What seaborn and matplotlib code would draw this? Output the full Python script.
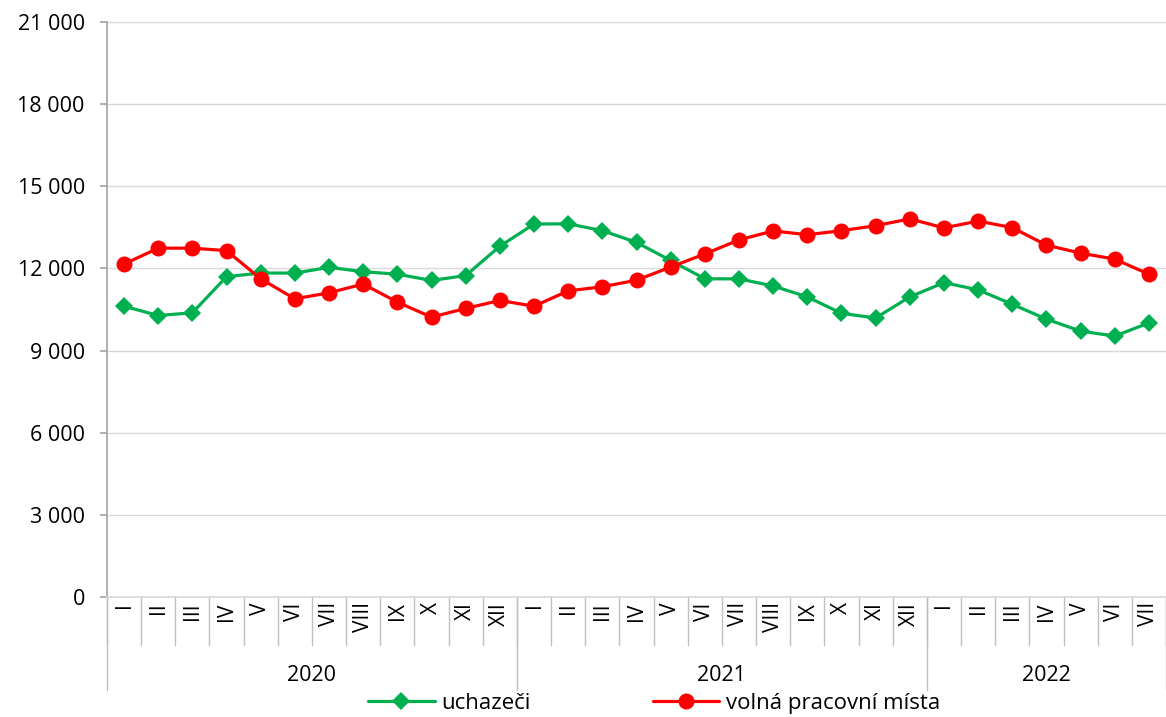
import numpy as np
import pandas as pd
import matplotlib
matplotlib.use("Agg")
import matplotlib.pyplot as plt
import seaborn as sns
from matplotlib.ticker import FuncFormatter

# months (roman numerals) and years
months = ["I", "II", "III", "IV", "V", "VI", "VII", "VIII", "IX", "X", "XI", "XII"]
years = ["2020", "2021", "2022"]
months_per_year = [12, 12, 7]

# uchazeci (job seekers)
uchazeci = [10620, 10280, 10380, 11700, 11830, 11830, 12040, 11880, 11790, 11560, 11740, 12810,
            13620, 13630, 13380, 12950, 12290, 11620, 11620, 11360, 10960, 10360, 10190, 10960,
            11480, 11220, 10690, 10150, 9710, 9530, 10010]
# volna pracovni mista (vacancies)
volna = [12160, 12740, 12740, 12650, 11620, 10890, 11110, 11430, 10770, 10220, 10540, 10830,
         10620, 11180, 11330, 11570, 12050, 12530, 13040, 13370, 13230, 13380, 13560, 13810,
         13480, 13730, 13490, 12850, 12560, 12340, 11790]

labels = []
for n in months_per_year:
    labels += months[:n]
x = np.arange(len(labels))

df = pd.DataFrame({"x": x, "uchazeči": uchazeci, "volná pracovní místa": volna})

sns.set_theme(style="white")
plt.rcParams["font.family"] = ["Open Sans", "DejaVu Sans"]
plt.rcParams["text.color"] = "black"

fig = plt.figure(figsize=(11.66, 7.17), dpi=100)
ax = fig.add_axes([107 / 1166, 1 - 597 / 717, 1 - 107 / 1166, 575 / 717])

sns.lineplot(data=df, x="x", y="uchazeči", ax=ax, color="#00B050", marker="D",
             markersize=9, markeredgewidth=0, linewidth=2.3, label="uchazeči")
sns.lineplot(data=df, x="x", y="volná pracovní místa", ax=ax, color="#FF0000", marker="o",
             markersize=11.5, markeredgewidth=0, linewidth=2.3, label="volná pracovní místa")

ax.set_xlim(-0.5, len(labels) - 0.5)
ax.set_ylim(0, 21000)
ax.set_yticks(np.arange(0, 21001, 3000))
ax.yaxis.set_major_formatter(FuncFormatter(lambda v, p: f"{int(v):,}".replace(",", " ")))
ax.tick_params(axis="y", labelsize=15.5, labelcolor="black", length=5, color="#A6A6A6",
               left=True, pad=11)
ax.set_xticks([])
ax.set_xlabel("")
ax.set_ylabel("")
ax.grid(axis="y", color="#D9D9D9", linewidth=1)
for s in ["top", "right"]:
    ax.spines[s].set_visible(False)
ax.spines["left"].set_color("#A6A6A6")
ax.spines["bottom"].set_color("#D9D9D9")

# category axis: month labels, separators, year labels
tr = ax.get_xaxis_transform()
for i, lab in enumerate(labels):
    ax.text(i, -0.009, lab, transform=tr, rotation=90, ha="center", va="top", fontsize=15)
for i in range(len(labels) + 1):
    ax.plot([i - 0.5, i - 0.5], [0, -0.084], transform=tr, color="#BFBFBF", lw=1, clip_on=False)
start = 0
for yr, n in zip(years, months_per_year):
    ax.plot([start - 0.5, start - 0.5], [0, -0.162], transform=tr, color="#BFBFBF", lw=1, clip_on=False)
    ax.text(start + n / 2 - 0.5, -0.137, yr, transform=tr, ha="center", va="center", fontsize=15.5)
    start += n
ax.plot([start - 0.5, start - 0.5], [0, -0.162], transform=tr, color="#BFBFBF", lw=1, clip_on=False)

ax.legend(loc="lower center", bbox_to_anchor=(0.561, -0.008), bbox_transform=fig.transFigure,
          ncol=2, frameon=False, fontsize=16, handlelength=3.0, columnspacing=5.5,
          handletextpad=0.3, borderaxespad=0)

fig.savefig("out.png", dpi=100)
